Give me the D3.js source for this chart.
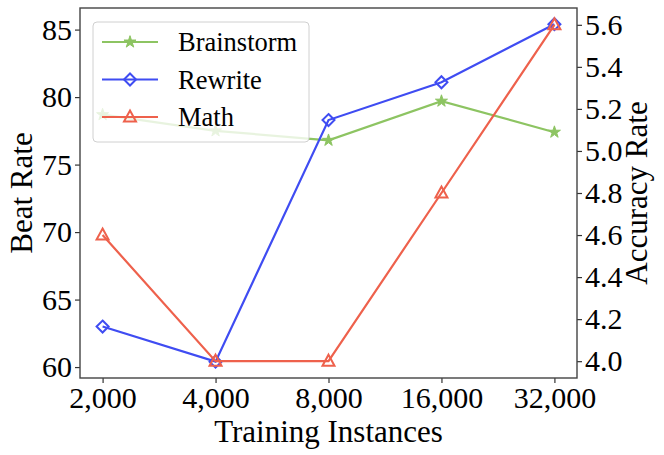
<!DOCTYPE html>
<html>
<head>
<meta charset="utf-8">
<script src="https://cdn.jsdelivr.net/npm/d3@7"></script>
<style>
  body { margin: 0; background: #fff; }
  text { font-family: "Liberation Serif", "Times New Roman", serif; fill: #000; }
</style>
</head>
<body>
<div id="wrapper"></div>
<script>
const categories = ['2,000', '4,000', '8,000', '16,000', '32,000'];
const brainstorm = [78.7, 77.5, 76.8, 79.7, 77.4];
const rewrite = [63.0, 60.4, 78.3, 81.1, 85.4];
const math = [4.6, 4.0, 4.0, 4.8, 5.6];
const leftTicks = [60, 65, 70, 75, 80, 85];
const rightTicks = [4.0, 4.2, 4.4, 4.6, 4.8, 5.0, 5.2, 5.4, 5.6];

function drawChart() {
  let dimensions = {
    width: 664,
    height: 455,
    margin: { top: 8, right: 87, bottom: 77, left: 80 },
  };
  dimensions.boundedWidth = dimensions.width - dimensions.margin.left - dimensions.margin.right;
  dimensions.boundedHeight = dimensions.height - dimensions.margin.top - dimensions.margin.bottom;

  const colors = { brainstorm: '#8dc462', rewrite: '#3f4cf2', math: '#ee614c' };

  const wrapper = d3.select('#wrapper')
    .append('svg')
    .attr('width', dimensions.width)
    .attr('height', dimensions.height);

  const bounds = wrapper.append('g')
    .attr('transform', `translate(${dimensions.margin.left},${dimensions.margin.top})`);

  // scales
  const xScale = d3.scaleLinear()
    .domain([-0.2, categories.length - 1 + 0.2])
    .range([0, dimensions.boundedWidth]);

  const yLeft = d3.scaleLinear()
    .domain([59.19, 86.6])
    .range([dimensions.boundedHeight, 0]);

  const yRight = d3.scaleLinear()
    .domain([3.92, 5.68])
    .range([dimensions.boundedHeight, 0]);

  // lines
  const series = [
    { name: 'Brainstorm', values: brainstorm, scale: yLeft, color: colors.brainstorm, marker: 'star' },
    { name: 'Rewrite', values: rewrite, scale: yLeft, color: colors.rewrite, marker: 'diamond' },
    { name: 'Math', values: math, scale: yRight, color: colors.math, marker: 'triangle' },
  ];

  function markerPath(type) {
    if (type === 'star') return d3.symbol(d3.symbolStar, 45)();
    if (type === 'diamond') return 'M0,-6L6,0L0,6L-6,0Z';
    return 'M0,-6.5L6,4.5L-6,4.5Z';
  }

  function drawMarker(g, type, color) {
    g.append('path')
      .attr('d', markerPath(type))
      .attr('fill', type === 'star' ? color : 'none')
      .attr('stroke', color)
      .attr('stroke-width', type === 'star' ? 1 : 2);
  }

  series.forEach(s => {
    const line = d3.line()
      .x((d, i) => xScale(i))
      .y(d => s.scale(d));
    bounds.append('path')
      .datum(s.values)
      .attr('d', line)
      .attr('fill', 'none')
      .attr('stroke', s.color)
      .attr('stroke-width', 2.2);
    s.values.forEach((v, i) => {
      const g = bounds.append('g')
        .attr('transform', `translate(${xScale(i)},${s.scale(v)})`);
      drawMarker(g, s.marker, s.color);
    });
  });

  // axes
  const tickFont = '30px';
  const xAxis = bounds.append('g')
    .attr('transform', `translate(0,${dimensions.boundedHeight})`)
    .call(d3.axisBottom(xScale)
      .tickValues(d3.range(categories.length))
      .tickFormat(i => categories[i])
      .tickSizeOuter(0)
      .tickSize(5)
      .tickPadding(4));

  const yAxisL = bounds.append('g')
    .call(d3.axisLeft(yLeft).tickValues(leftTicks).tickSizeOuter(0).tickSize(5).tickPadding(3));

  const yAxisR = bounds.append('g')
    .attr('transform', `translate(${dimensions.boundedWidth},0)`)
    .call(d3.axisRight(yRight).tickValues(rightTicks).tickFormat(d3.format('.1f')).tickSizeOuter(0).tickSize(5).tickPadding(3));

  [xAxis, yAxisL, yAxisR].forEach(ax => {
    ax.attr('font-size', null).attr('font-family', null);
    ax.select('.domain').remove();
    ax.selectAll('.tick line').attr('stroke', '#333').attr('stroke-width', 1.2);
    ax.selectAll('.tick text')
      .style('font-size', tickFont)
      .style('font-family', '"Liberation Serif", serif')
      .attr('fill', '#000');
  });

  // frame
  bounds.append('rect')
    .attr('width', dimensions.boundedWidth)
    .attr('height', dimensions.boundedHeight)
    .attr('fill', 'none')
    .attr('stroke', '#444')
    .attr('stroke-width', 1.4);

  // axis labels
  wrapper.append('text')
    .attr('x', dimensions.margin.left + dimensions.boundedWidth / 2)
    .attr('y', 442)
    .attr('text-anchor', 'middle')
    .style('font-size', '31px')
    .text('Training Instances');

  wrapper.append('text')
    .attr('transform', `translate(32,${dimensions.margin.top + dimensions.boundedHeight / 2}) rotate(-90)`)
    .attr('text-anchor', 'middle')
    .style('font-size', '31px')
    .text('Beat Rate');

  wrapper.append('text')
    .attr('transform', `translate(647,${dimensions.margin.top + dimensions.boundedHeight / 2}) rotate(-90)`)
    .attr('text-anchor', 'middle')
    .style('font-size', '31px')
    .text('Accuracy Rate');

  // legend
  const legend = wrapper.append('g')
    .attr('transform', 'translate(93,22)');
  legend.append('rect')
    .attr('width', 216)
    .attr('height', 120)
    .attr('rx', 4)
    .attr('fill', '#fff')
    .attr('fill-opacity', 0.8)
    .attr('stroke', '#d0d0d0');

  series.forEach((s, i) => {
    const row = legend.append('g')
      .attr('transform', `translate(0,${20 + i * 37.5})`);
    row.append('line')
      .attr('x1', 9).attr('x2', 65)
      .attr('stroke', s.color)
      .attr('stroke-width', 2.2);
    const m = row.append('g').attr('transform', 'translate(37,0)');
    drawMarker(m, s.marker, s.color);
    row.append('text')
      .attr('x', 85)
      .attr('y', 9)
      .style('font-size', '26.5px')
      .text(s.name);
  });
}

drawChart();
</script>
</body>
</html>
